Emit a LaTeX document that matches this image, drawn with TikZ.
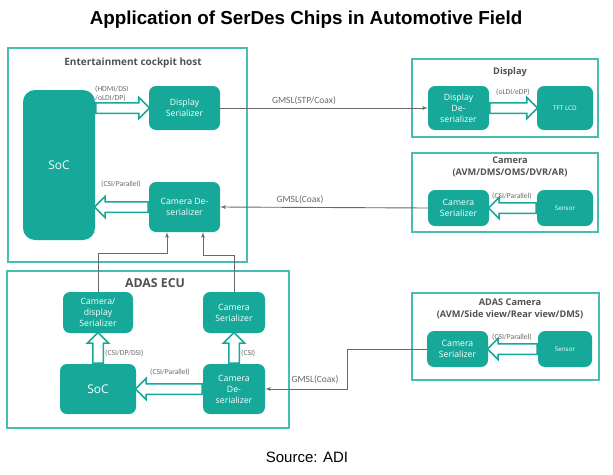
\documentclass[tikz,border=0pt]{standalone}
\usepackage{fontspec}
\setmainfont{Liberation Sans}
\newfontfamily\chipfont{Open Sans}
\newfontfamily\tagfont{Carlito}
\usetikzlibrary{shapes,arrows,calc}
\definecolor{chipteal}{RGB}{22,168,152}
\definecolor{frameteal}{RGB}{70,190,176}
\definecolor{wiregray}{RGB}{105,105,105}
\definecolor{titlegray}{RGB}{80,80,80}
\tikzstyle{chip} = [rectangle, fill=chipteal, text=white, align=center, rounded corners=7pt, inner sep=0pt, font=\chipfont\fontsize{8.7}{11}\selectfont]
\tikzstyle{frame} = [draw=frameteal, line width=1.6pt]
\tikzstyle{frametitle} = [text=titlegray, align=center, inner sep=0pt, font=\chipfont\bfseries\fontsize{9.2}{12}\selectfont]
\tikzstyle{tag} = [text=wiregray, align=left, inner sep=0pt, font=\tagfont\fontsize{7.6}{9}\selectfont]
\tikzstyle{gmsl} = [text=wiregray, inner sep=0pt, font=\tagfont\fontsize{9.5}{11}\selectfont]
\tikzstyle{wire} = [draw=wiregray, line width=0.9pt, -latex']
\tikzstyle{fatarrow} = [single arrow, draw=chipteal, fill=white, line width=1.5pt, inner xsep=0pt, inner ysep=4.5pt, single arrow head extend=5.5pt, single arrow head indent=0pt]
\tikzstyle{fat} = [to path={let \p1=($(\tikztotarget)-(\tikztostart)$), \n1={veclen(\x1,\y1)}, \n2={atan2(\y1,\x1)} in (\tikztostart) node[fatarrow, rotate=\n2, minimum height=\n1, anchor=tail] {} (\tikztotarget)}]

\begin{document}
\begin{tikzpicture}[x=1pt, y=-1pt]

\useasboundingbox (0,0) rectangle (613,474);
\node [font=\bfseries\fontsize{18.8}{22}\selectfont] at (306,20) (title) {Application of SerDes Chips in Automotive Field};
\node [font=\fontsize{15}{17}\selectfont] at (307,457) (source) {Source: ADI};

% cockpit host
\draw [frame] (8,48) rectangle (247,262);
\node [frametitle, font=\chipfont\bfseries\fontsize{10}{12}\selectfont] at (133,63) (hosttitle) {Entertainment cockpit host};
\node [chip, minimum width=72, minimum height=150, rounded corners=12pt, font=\chipfont\fontsize{12}{14}\selectfont] at (59,165) (hostsoc) {SoC};
\node [chip, minimum width=71, minimum height=44] at (184.5,108) (dispser) {Display\\Serializer};
\node [chip, minimum width=71, minimum height=50] at (184.5,207) (camdes) {Camera De-\\serializer};
\path [fat] (hostsoc.east |- dispser.west) to (dispser.west);
\path [fat] (camdes.west) to (hostsoc.east |- camdes.west);
\node [tag, anchor=west] at (95,94) (hdmitag) {(HDMI/DSI\\/oLDI/DP)};
\node [tag] at (121,184) (csitag) {(CSI/Parallel)};

% display
\draw [frame] (412,59) rectangle (598,137);
\node [frametitle] at (510,72) (disptitle) {Display};
\node [chip, minimum width=61, minimum height=44] at (458.5,108) (dispdes) {Display\\De-\\serializer};
\node [chip, minimum width=56, minimum height=44, font=\chipfont\fontsize{6.3}{7}\selectfont] at (565,108) (tft) {TFT LCD};
\path [fat] (dispdes.east) to (tft.west);
\node [tag] at (513,92) (ldptag) {(oLDI/eDP)};

% camera
\draw [frame] (412,153) rectangle (598,232);
\node [frametitle] at (510,167) (camtitle) {Camera\\(AVM/DMS/OMS/DVR/AR)};
\node [chip, minimum width=61, minimum height=36] at (458.5,208) (camser) {Camera\\Serializer};
\node [chip, minimum width=56, minimum height=36, font=\chipfont\fontsize{6.3}{7}\selectfont] at (565,208) (camsensor) {Sensor};
\path [fat] (camsensor.west) to (camser.east);
\node [tag] at (512,196) (camcsitag) {(CSI/Parallel)};

\path [wire] (dispser.east) to (dispdes.west);
\node [gmsl] at (304,101) (stptag) {GMSL(STP/Coax)};
\path [wire] (camser.west) to (camdes.east);
\node [gmsl] at (300,200) (coaxtag) {GMSL(Coax)};

% adas ecu
\draw [frame] (7,271) rectangle (289,428);
\node [frametitle, font=\chipfont\bfseries\fontsize{12.3}{14}\selectfont] at (155,283) (ecutitle) {ADAS ECU};
\node [chip, minimum width=70, minimum height=41] at (98,312.5) (mixser) {Camera/\\display\\Serializer};
\node [chip, minimum width=62, minimum height=41] at (234,312.5) (ecuser) {Camera\\Serializer};
\node [chip, minimum width=76, minimum height=50, font=\chipfont\fontsize{12}{14}\selectfont] at (98,389) (ecusoc) {SoC};
\node [chip, minimum width=62, minimum height=50] at (234,389) (ecudes) {Camera\\De-\\serializer};
\path [fat] (ecusoc.north) to (mixser.south);
\path [fat] (ecudes.north) to (ecuser.south);
\path [fat] (ecudes.west) to (ecusoc.east);
\node [tag, anchor=west] at (105,353) (dsitag) {(CSI/DP/DSI)};
\node [tag, anchor=west] at (241,353) (ecucsitag) {(CSI)};
\node [tag] at (170,372) (ecupartag) {(CSI/Parallel)};

% uplinks to host
\coordinate (hopa) at (0,253);
\coordinate (hopb) at (0,255);
\path [wire] (mixser.north) -- (mixser.north |- hopa) -| ([xshift=-17.5pt]camdes.south);
\path [wire] (ecuser.north) -- (ecuser.north |- hopb) -| ([xshift=18.5pt]camdes.south);

% adas camera
\draw [frame] (412,293) rectangle (599,380);
\node [frametitle] at (510,308.5) (adastitle) {ADAS Camera\\(AVM/Side view/Rear view/DMS)};
\node [chip, minimum width=61, minimum height=36] at (457.5,349) (adasser) {Camera\\Serializer};
\node [chip, minimum width=54, minimum height=36, font=\chipfont\fontsize{6.3}{7}\selectfont] at (565,349) (adassensor) {Sensor};
\path [fat] (adassensor.west) to (adasser.east);
\node [tag] at (512,337) (adascsitag) {(CSI/Parallel)};

\coordinate (bend) at (347,0);
\path [wire] (adasser.west) -| (bend |- ecudes.east) -- (ecudes.east);
\node [gmsl] at (315,380) (adascoaxtag) {GMSL(Coax)};

\end{tikzpicture}
\end{document}
